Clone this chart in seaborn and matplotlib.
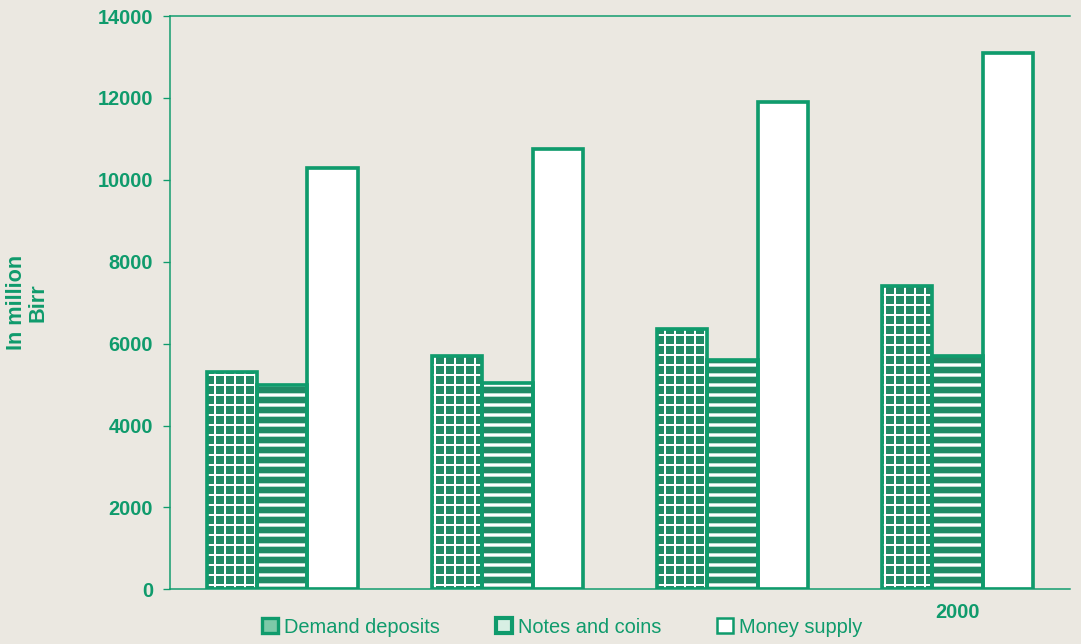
import pandas as pd
import matplotlib.pyplot as plt
import seaborn as sns
from matplotlib.patches import Patch

# Data (values in million Birr)
years = ['1997', '1998', '1999', '2000']
year_labels = ['', '', '', '2000']
series = ['Demand deposits', 'Notes and coins', 'Money supply']
demand_deposits = [5300, 5700, 6350, 7400]
notes_and_coins = [5000, 5050, 5600, 5700]
money_supply = [10300, 10750, 11900, 13100]
y_ticks = [0, 2000, 4000, 6000, 8000, 10000, 12000, 14000]

green = '#0f9b6c'
paper = '#ebe8e1'

df = pd.DataFrame({
    'Year': years * 3,
    'Series': [s for s in series for _ in years],
    'Value': demand_deposits + notes_and_coins + money_supply,
})

sns.set_style('ticks')
plt.rcParams['font.family'] = ['Liberation Sans', 'DejaVu Sans']
plt.rcParams['hatch.linewidth'] = 1.6

fig = plt.figure(figsize=(1081 / 120, 644 / 120), dpi=120, facecolor=paper)
ax = fig.add_axes([0.157, 0.085, 0.833, 0.89])
ax.set_facecolor(paper)

# filled bars with white hatching
sns.barplot(data=df, x='Year', y='Value', hue='Series', order=years, hue_order=series,
            palette=[green, green, 'white'], width=0.67, edgecolor='white', linewidth=0.5,
            legend=False, ax=ax)
hatches = ['++', '--', '']
hatch_lw = [1.2, 2.0, 1.0]
n = len(years)
for i, bar in enumerate(ax.patches):
    bar.set_hatch(hatches[i // n])
    if hasattr(bar, 'set_hatch_linewidth'):
        bar.set_hatch_linewidth(hatch_lw[i // n])

# green outlines on top
sns.barplot(data=df, x='Year', y='Value', hue='Series', order=years, hue_order=series,
            palette=[green] * 3, width=0.67, fill=False, linewidth=2.2,
            legend=False, ax=ax)

ax.set_ylim(0, 14000)
ax.set_yticks(y_ticks)
ax.set_xticks(range(len(years)))
ax.set_xticklabels(year_labels)
ax.set_xlabel('')
ax.set_ylabel('In million\nBirr', color=green, fontsize=13, fontweight='bold', linespacing=1.0)
ax.yaxis.set_label_coords(-0.135, 0.5)

ax.tick_params(axis='y', colors=green, labelsize=12, length=4, width=0.8, pad=6)
ax.tick_params(axis='x', colors=green, labelsize=12, length=0, pad=8)
for lbl in ax.get_yticklabels() + ax.get_xticklabels():
    lbl.set_fontweight('bold')

for side in ['left', 'bottom', 'top']:
    ax.spines[side].set_color(green)
    ax.spines[side].set_linewidth(0.9)
ax.spines['right'].set_visible(False)

handles = [
    Patch(facecolor='#7cc9a8', edgecolor=green, linewidth=2),
    Patch(facecolor='#d8efe4', edgecolor=green, linewidth=2.5),
    Patch(facecolor='white', edgecolor=green, linewidth=1.5),
]
fig.legend(handles, series, loc='center', bbox_to_anchor=(0.52, 0.026), ncol=3,
           frameon=False, labelcolor=green, fontsize=12, columnspacing=2.8,
           handletextpad=0.3, handlelength=0.8, handleheight=0.8)

plt.savefig('out.png', dpi=120, facecolor=paper)
